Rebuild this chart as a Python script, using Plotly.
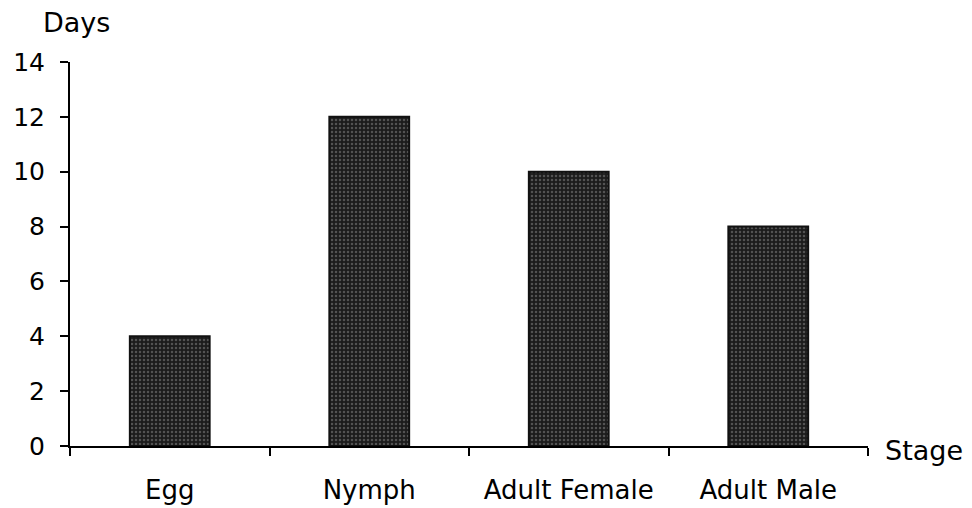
import plotly.graph_objects as go

stages = ["Egg", "Nymph", "Adult Female", "Adult Male"]
days = [4, 12, 10, 8]
y_ticks = [0, 2, 4, 6, 8, 10, 12, 14]

font = "DejaVu Sans, Arial, sans-serif"

fig = go.Figure()
fig.add_trace(go.Bar(
    x=stages, y=days,
    marker=dict(
        color="#1e1e1e",
        line=dict(color="#111111", width=2),
        pattern=dict(shape=".", fgcolor="#8a8a8a", bgcolor="#1c1c1c", size=4, solidity=0.3),
    ),
    width=0.4,
))

fig.update_layout(
    width=972, height=508,
    margin=dict(l=62, r=112, t=54, b=70),
    plot_bgcolor="white", paper_bgcolor="white",
    showlegend=False,
    font=dict(family=font, color="black"),
    bargap=0.6,
    xaxis=dict(
        automargin=False,
        showline=True, linecolor="black", linewidth=2,
        ticks="outside", tickson="boundaries", ticklen=8, tickcolor="black", tickwidth=1.5,
        tickfont=dict(size=26, family=font, color="black"),
        ticklabelstandoff=20,
        showgrid=False, zeroline=False,
    ),
    yaxis=dict(
        automargin=False,
        range=[0, 14], tickvals=y_ticks,
        showline=True, linecolor="black", linewidth=2,
        ticks="outside", ticklen=8, tickcolor="black", tickwidth=1.5,
        tickfont=dict(size=25, family=font, color="black"),
        ticklabelstandoff=10,
        showgrid=False, zeroline=False,
    ),
    annotations=[
        dict(text="Days", xref="paper", yref="paper", x=-0.036, y=1.104,
             xanchor="left", yanchor="middle", showarrow=False,
             font=dict(size=27, family=font, color="black")),
        dict(text="Stage", xref="paper", yref="paper", x=1.019, y=-0.012,
             xanchor="left", yanchor="middle", showarrow=False,
             font=dict(size=27, family=font, color="black")),
    ],
)

fig.write_html("out.html")
